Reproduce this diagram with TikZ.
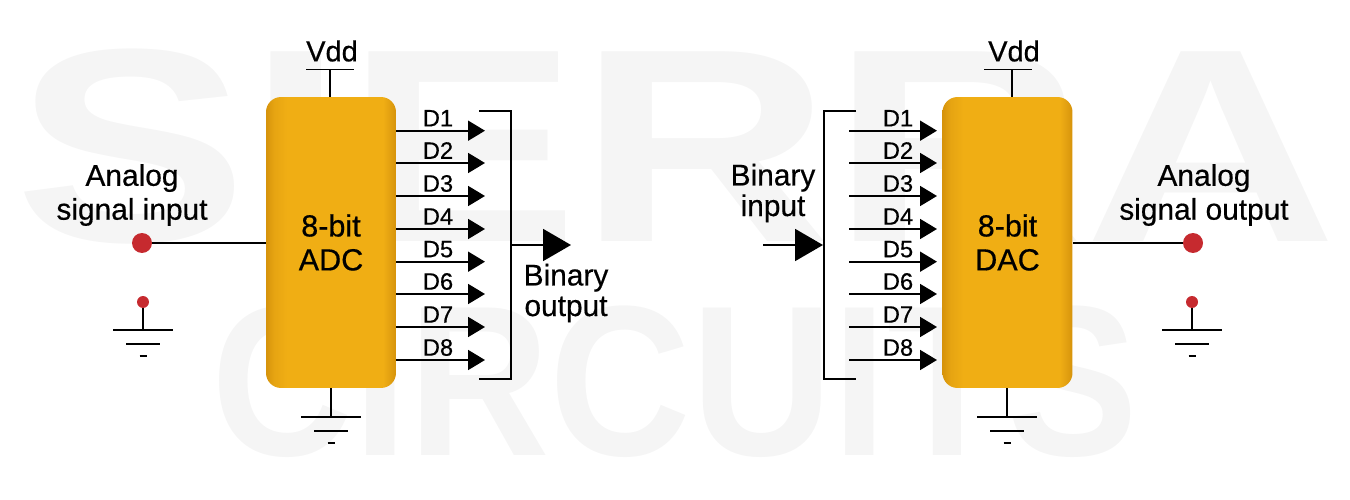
\documentclass[tikz,border=0pt]{standalone}
\usepackage{fontspec}
\setmainfont{Liberation Sans}[RawFeature={embolden=0.5}]
\newfontfamily\wmfont{Liberation Sans Bold}
\usetikzlibrary{arrows.meta}
\definecolor{chipdark}{HTML}{D6930B}
\definecolor{chipmid}{HTML}{E6A412}
\definecolor{chipmain}{HTML}{F0AE14}
\definecolor{dotred}{HTML}{C62A2F}
\definecolor{markgray}{HTML}{F5F5F5}
\pgfdeclarehorizontalshading{chipshade}{100bp}{color(0bp)=(chipdark); color(25bp)=(chipdark); color(28bp)=(chipmid); color(33bp)=(chipmain); color(70bp)=(chipmain); color(72bp)=(chipmid); color(75bp)=(chipdark); color(100bp)=(chipdark)}
\tikzset{
  chip/.style={shading=chipshade, rounded corners=0.3cm, minimum width=2.6cm, minimum height=5.82cm, align=center, font=\fontsize{17.4}{19.3}\selectfont},
  lbl/.style={align=center, font=\fontsize{17}{19.3}\selectfont},
  binlbl/.style={align=center, font=\fontsize{17}{17.4}\selectfont},
  vddlbl/.style={inner sep=0pt, font=\fontsize{16.5}{18}\selectfont},
  bitlbl/.style={inner sep=0pt, font=\fontsize{13.5}{15}\selectfont},
  sigdot/.style={circle, fill=dotred, inner sep=0pt, minimum size=0.4cm},
  gnddot/.style={circle, fill=dotred, inner sep=0pt, minimum size=0.24cm},
  wire/.style={line width=1.1pt},
  bitline/.style={wire, -{Triangle[length=0.34cm,width=0.4cm]}},
  busline/.style={wire, -{Triangle[length=0.56cm,width=0.64cm]}},
  wmark/.style={inner sep=0pt, anchor=base, text=markgray, transform shape}
}
\begin{document}
\begin{tikzpicture}[x=0.02cm,y=-0.02cm]
  \useasboundingbox (0,0) rectangle (1350,500);
  \node[wmark, xscale=1.27, font=\wmfont\fontsize{157}{157}\selectfont] (sierra) at (676,241) {SIERRA};
  \node[wmark, xscale=0.915, font=\wmfont\fontsize{122}{122}\selectfont] (circuits) at (675,455) {CIRCUITS};

  \node[chip] (adc) at (331,242.5) {8-bit\\ADC};
  \node[chip] (dac) at (1007.5,242.5) {8-bit\\DAC};

  % analog sides
  \node[sigdot] (ain) at (142,243) {};
  \node[sigdot] (aout) at (1193,243) {};
  \draw[wire] (ain) -- (ain -| adc.west);
  \draw[wire] (aout) -- (aout -| dac.east);
  \node[lbl] (ainlbl) at (132,195) {Analog\\signal input};
  \node[lbl] (aoutlbl) at (1204,195) {Analog\\signal output};

  % supply
  \foreach \n/\x/\s in {adc/330/306, dac/1012/984} {
    \node[vddlbl] (vdd\n) at (\x+2,51) {Vdd};
    \coordinate (bar\n) at (\x,69.5);
    \draw[wire] (\s,69.5) -- (\s+48,69.5);
    \draw[wire] (bar\n) -- (bar\n |- \n.north);
  }

  % grounds
  \foreach \n/\x/\y in {gadc/331/417, gdac/1007/417, gain/143/330, gaout/1192/330} {
    \coordinate (\n) at (\x,\y);
    \draw[wire] (\x-30,\y) -- (\x+30,\y);
    \draw[wire] (\x-17,\y+14) -- (\x+17,\y+14);
    \draw[wire] (\x-3.5,\y+26) -- (\x+3.5,\y+26);
  }
  \draw[wire] (adc.south -| gadc) -- (gadc);
  \draw[wire] (dac.south -| gdac) -- (gdac);
  \node[gnddot] (pain) at (143,302) {};
  \node[gnddot] (paout) at (1192,302) {};
  \draw[wire] (pain) -- (gain);
  \draw[wire] (paout) -- (gaout);

  % data lines
  \foreach \i/\y in {1/130.7,2/163,3/196,4/229,5/261.7,6/294,7/327,8/360} {
    \coordinate (ae\i) at (485,\y);
    \coordinate (ds\i) at (849,\y);
    \coordinate (de\i) at (937,\y);
    \draw[bitline] (ae\i -| adc.east) -- (ae\i);
    \draw[bitline] (ds\i) -- (de\i);
    \node[bitlbl] (al\i) at (438,\y-12.5) {D\i};
    \node[bitlbl] (dl\i) at (898,\y-12.5) {D\i};
  }

  % brackets
  \draw[wire] (479,111) -- (511,111) -- (511,379) -- (479,379);
  \draw[wire] (856,111) -- (824,111) -- (824,379) -- (856,379);
  \coordinate (bo) at (511,245);
  \coordinate (boend) at (571,245);
  \coordinate (bi) at (763,245);
  \coordinate (biend) at (823,245);
  \draw[busline] (bo) -- (boend);
  \draw[busline] (bi) -- (biend);
  \node[binlbl] (bolbl) at (566,293) {Binary\\output};
  \node[binlbl] (bilbl) at (773,193) {Binary\\input};
\end{tikzpicture}
\end{document}
